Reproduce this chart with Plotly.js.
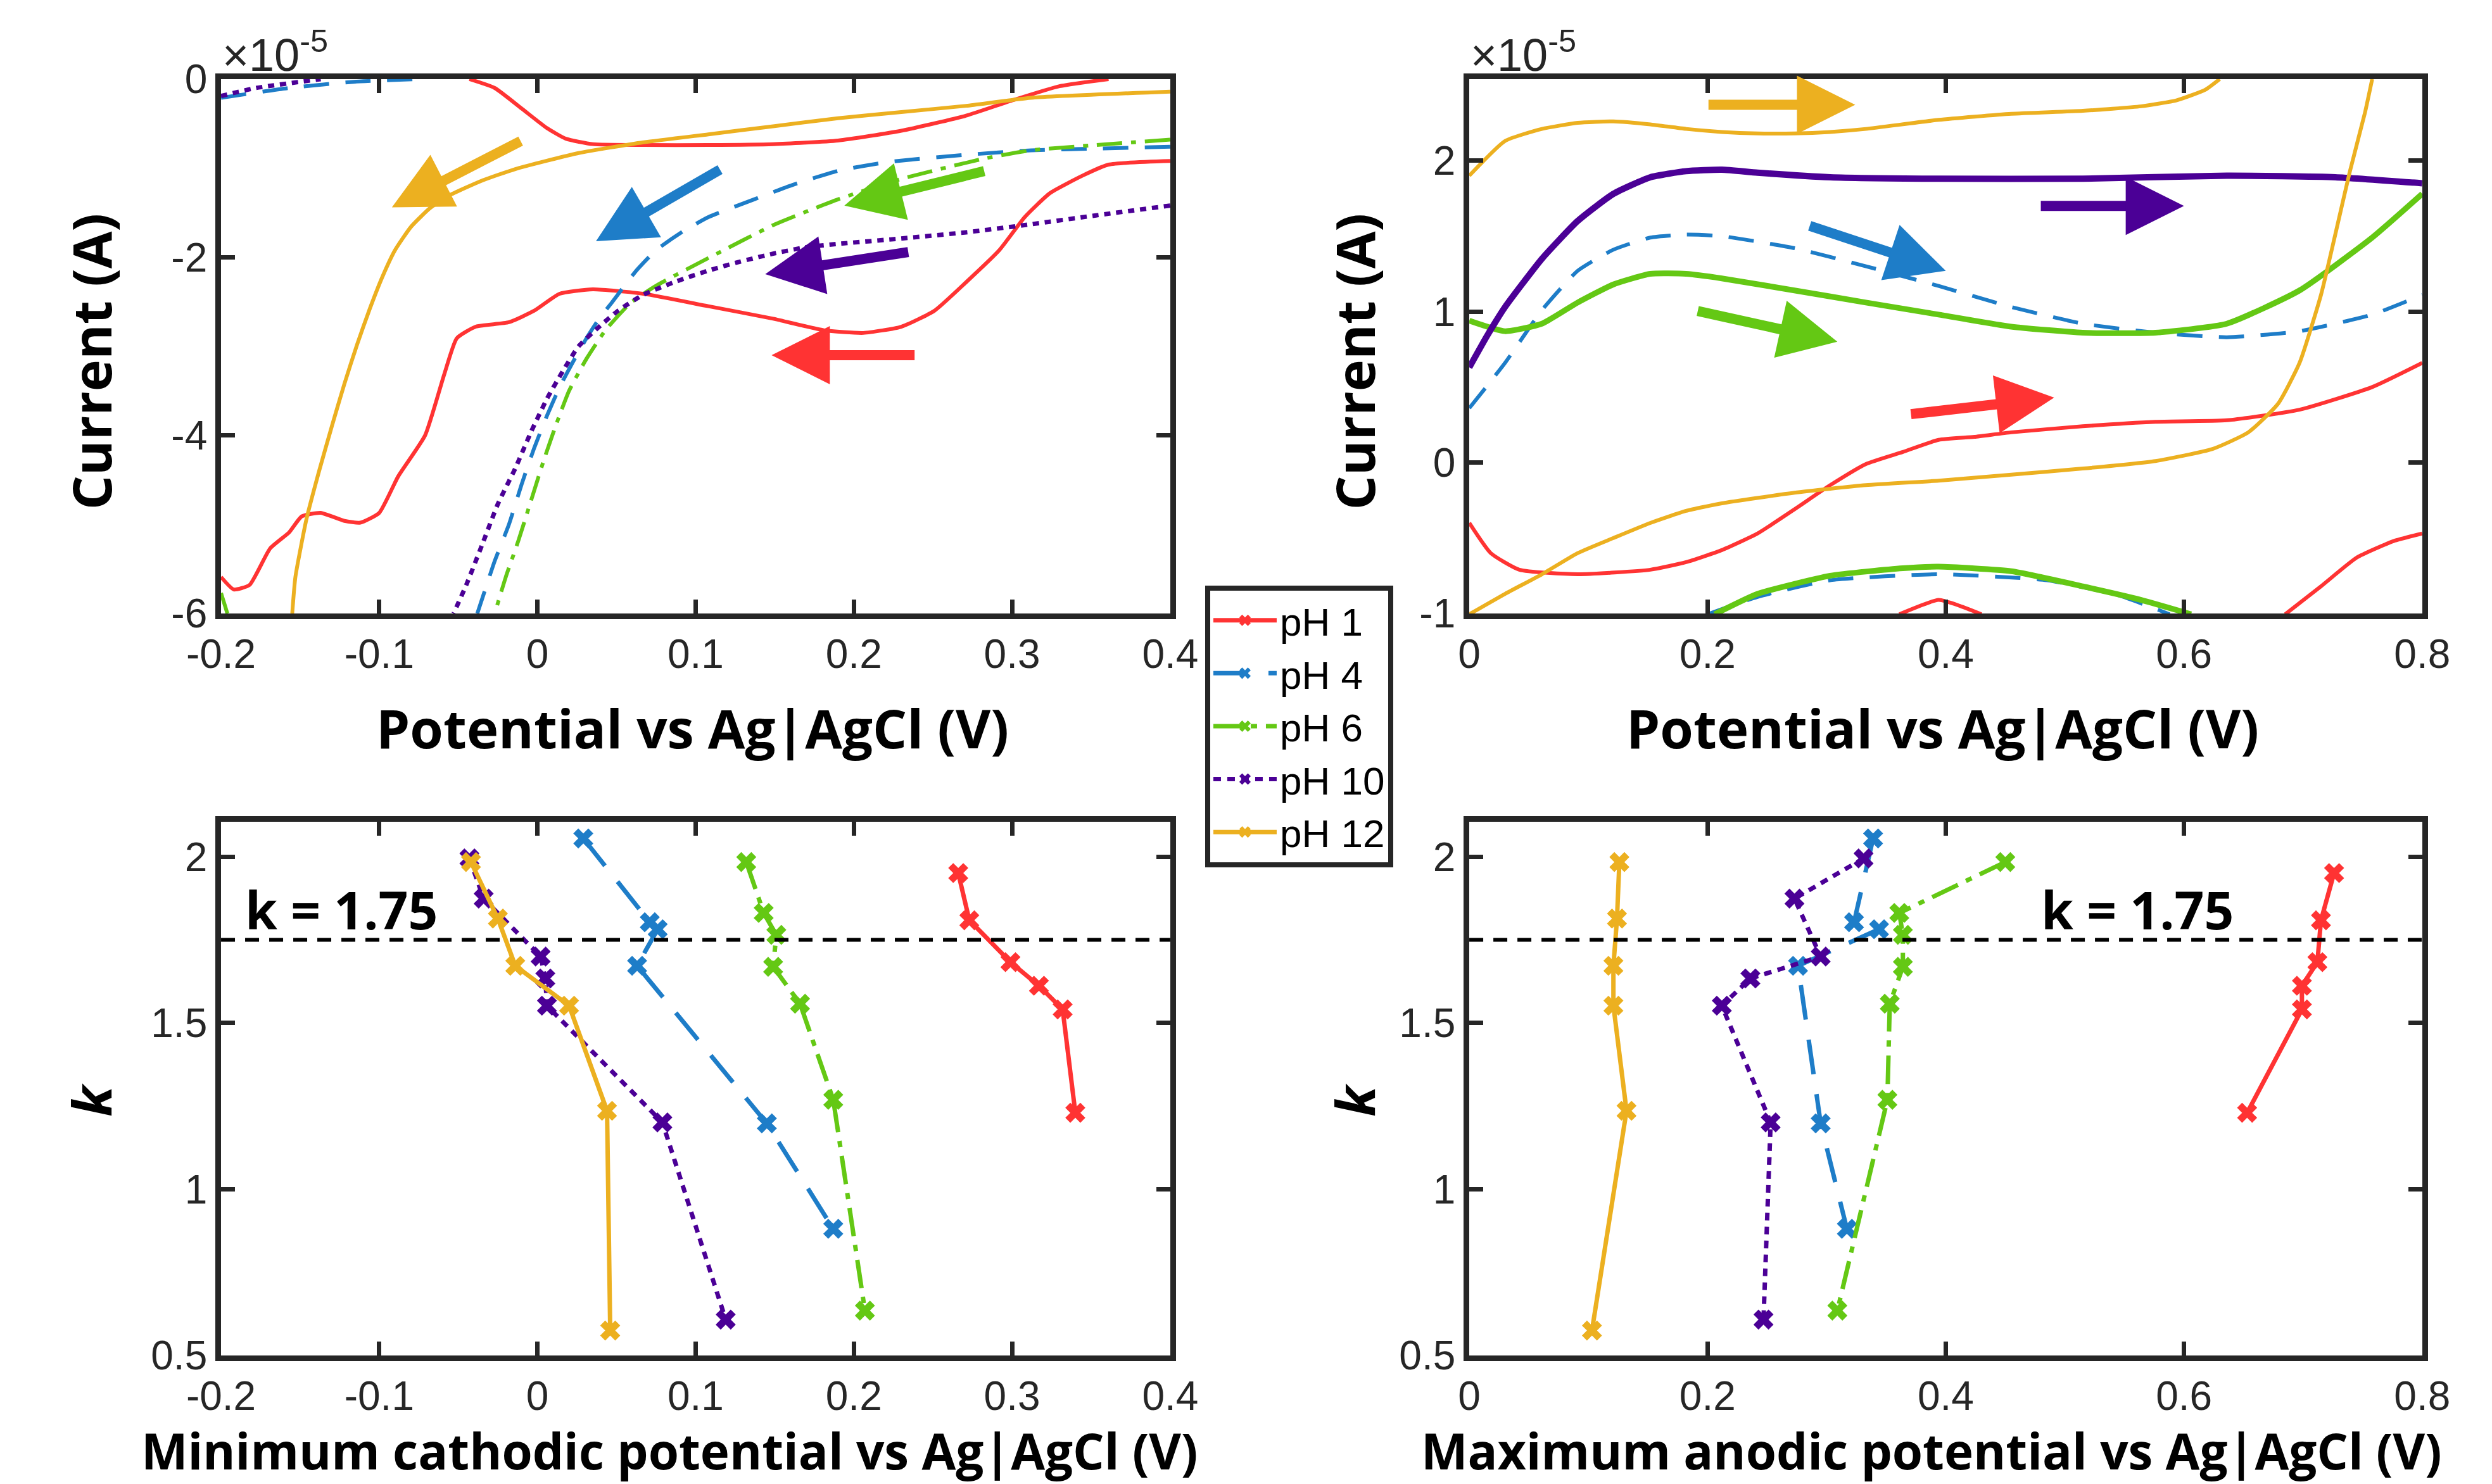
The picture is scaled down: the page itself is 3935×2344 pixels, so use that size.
<!DOCTYPE html>
<html>
<head>
<meta charset="utf-8">
<script src="https://cdn.plot.ly/plotly-3.0.1.min.js"></script>
<style>html,body{margin:0;padding:0;background:#fff;}#chart{width:3935px;height:2344px;}</style>
</head>
<body>
<div id="chart"></div>
<script>
// ---------------- DATA ----------------
const seriesNames = ["pH 1", "pH 4", "pH 6", "pH 10", "pH 12"];
const seriesColors = ["#FF3333", "#1E7DC8", "#64C814", "#4B0096", "#ECB020"];

// Cathodic scans (current in units of 1e-5 A); null separates visible branches
const cathX_pH1 = [0.4,0.361,0.345,0.324,0.308,0.292,0.271,0.251,0.230,0.206,0.181,0.149,0.108,0.067,0.035,0.014,-0.002,-0.018,-0.039,-0.051,-0.059,-0.071,-0.088,-0.100,-0.112,-0.122,-0.137,-0.149,-0.157,-0.169,-0.182,-0.192,-0.2,
  null,-0.043,-0.027,-0.010,0.006,0.018,0.035,0.067,0.108,0.149,0.190,0.230,0.271,0.300,0.330,0.361];
const cathY_pH1 = [-0.92,-0.96,-1.08,-1.28,-1.55,-1.92,-2.28,-2.60,-2.78,-2.85,-2.82,-2.69,-2.55,-2.41,-2.36,-2.41,-2.60,-2.73,-2.78,-2.91,-3.32,-4.00,-4.46,-4.87,-4.98,-4.96,-4.87,-4.91,-5.09,-5.27,-5.68,-5.73,-5.59,
  null,0,-0.10,-0.33,-0.55,-0.67,-0.73,-0.74,-0.74,-0.73,-0.69,-0.58,-0.41,-0.24,-0.08,0];
const cathX_pH4 = [-0.2,-0.157,-0.116,-0.076,null,
  0.4,0.353,0.312,0.271,0.222,0.190,0.161,0.137,0.108,0.092,0.075,0.063,0.055,0.047,0.039,0.031,0.022,0.014,0.006,-0.002,-0.010,-0.018,-0.027,-0.033,-0.038];
const cathY_pH4 = [-0.21,-0.10,-0.03,0,null,
  -0.76,-0.78,-0.80,-0.85,-0.93,-1.03,-1.19,-1.35,-1.55,-1.71,-1.92,-2.14,-2.32,-2.51,-2.69,-2.91,-3.19,-3.46,-3.78,-4.14,-4.55,-5.00,-5.41,-5.73,-6.0];
const cathX_pH6 = [-0.2,-0.196,null,
  0.4,0.353,0.312,0.283,0.230,0.190,0.149,0.108,0.075,0.059,0.043,0.031,0.020,0.012,0.004,-0.004,-0.012,-0.020,-0.027];
const cathY_pH6 = [-5.77,-6.0,null,
  -0.68,-0.74,-0.80,-0.89,-1.12,-1.35,-1.64,-2.01,-2.32,-2.51,-2.82,-3.14,-3.50,-3.87,-4.28,-4.73,-5.18,-5.59,-6.0];
const cathX_pH10 = [-0.2,-0.178,-0.137,null,
  0.4,0.353,0.312,0.271,0.230,0.190,0.169,0.149,0.128,0.108,0.088,0.067,0.051,0.039,0.026,0.016,0.006,-0.004,-0.014,-0.025,-0.035,-0.045,-0.053];
const cathY_pH10 = [-0.19,-0.10,0,null,
  -1.42,-1.53,-1.63,-1.72,-1.79,-1.85,-1.89,-1.96,-2.05,-2.15,-2.27,-2.42,-2.60,-2.78,-3.00,-3.28,-3.59,-3.96,-4.37,-4.77,-5.23,-5.68,-6.0];
const cathX_pH12 = [0.4,0.312,0.271,0.230,0.190,0.149,0.108,0.067,0.026,-0.014,-0.035,-0.055,-0.068,-0.080,-0.090,-0.098,-0.106,-0.114,-0.122,-0.130,-0.138,-0.146,-0.153,-0.155];
const cathY_pH12 = [-0.14,-0.21,-0.30,-0.37,-0.44,-0.53,-0.62,-0.71,-0.83,-1.01,-1.14,-1.30,-1.45,-1.66,-1.92,-2.22,-2.58,-2.98,-3.42,-3.90,-4.40,-4.94,-5.59,-6.0];

// Anodic scans (current in units of 1e-5 A)
const anodX_pH1 = [0,0.018,0.042,0.091,0.152,0.182,0.212,0.242,0.273,0.303,0.333,0.364,0.394,0.424,0.455,0.515,0.576,0.636,0.697,0.758,0.8,
  null,0.361,0.394,0.412,0.430,null,0.685,0.715,0.745,0.776,0.8];
const anodY_pH1 = [-0.40,-0.60,-0.71,-0.74,-0.71,-0.66,-0.58,-0.47,-0.31,-0.15,-0.01,0.07,0.15,0.17,0.20,0.24,0.27,0.28,0.35,0.50,0.66,
  null,-1.005,-0.91,-0.95,-1.005,null,-1.005,-0.82,-0.63,-0.52,-0.47];
const anodX_pH4 = [0,0.030,0.061,0.091,0.121,0.152,0.182,0.212,0.273,0.333,0.394,0.455,0.515,0.576,0.636,0.697,0.758,0.8,
  null,0.2,0.242,0.303,0.394,0.485,0.545,0.588];
const anodY_pH4 = [0.36,0.66,1.01,1.27,1.41,1.49,1.51,1.50,1.42,1.30,1.17,1.03,0.92,0.86,0.83,0.87,0.98,1.11,
  null,-1.005,-0.89,-0.78,-0.74,-0.78,-0.88,-1.005];
const anodX_pH6 = [0,0.030,0.061,0.091,0.121,0.152,0.182,0.212,0.273,0.333,0.394,0.455,0.515,0.576,0.636,0.697,0.758,0.8,
  null,0.206,0.242,0.303,0.364,0.394,0.455,0.515,0.564,0.606];
const anodY_pH6 = [0.94,0.87,0.92,1.06,1.18,1.25,1.25,1.22,1.14,1.06,0.98,0.90,0.86,0.86,0.92,1.14,1.49,1.78,
  null,-1.005,-0.87,-0.75,-0.70,-0.69,-0.72,-0.82,-0.91,-1.005];
const anodX_pH10 = [0,0.015,0.030,0.061,0.091,0.121,0.152,0.182,0.212,0.242,0.303,0.394,0.515,0.636,0.727,0.8];
const anodY_pH10 = [0.63,0.84,1.03,1.35,1.60,1.78,1.89,1.93,1.94,1.92,1.89,1.88,1.88,1.90,1.89,1.85];
const anodX_pH12 = [0,0.030,0.061,0.091,0.121,0.152,0.182,0.212,0.242,0.273,0.303,0.333,0.394,0.455,0.515,0.564,0.594,0.618,0.630,
  null,0,0.030,0.061,0.091,0.121,0.152,0.182,0.212,0.273,0.333,0.394,0.455,0.515,0.576,0.624,0.654,0.679,0.697,0.715,0.727,0.739,0.752,0.758];
const anodY_pH12 = [1.90,2.13,2.21,2.25,2.26,2.24,2.21,2.19,2.18,2.18,2.19,2.21,2.27,2.31,2.33,2.36,2.40,2.47,2.54,
  null,-1.005,-0.87,-0.74,-0.60,-0.50,-0.40,-0.32,-0.27,-0.20,-0.15,-0.12,-0.08,-0.04,0.01,0.09,0.20,0.39,0.66,1.11,1.51,1.92,2.32,2.54];

// k values and limiting potentials (V vs Ag|AgCl)
const k_pH1 = [1.951,1.809,1.683,1.612,1.541,1.230];
const minCath_pH1 = [0.266,0.273,0.299,0.317,0.332,0.340];
const maxAnod_pH1 = [0.726,0.715,0.712,0.699,0.699,0.653];
const k_pH4 = [2.055,1.803,1.782,1.672,1.198,0.881];
const minCath_pH4 = [0.029,0.071,0.076,0.063,0.145,0.187];
const maxAnod_pH4 = [0.339,0.323,0.344,0.276,0.295,0.317];
const k_pH6 = [1.984,1.831,1.765,1.669,1.558,1.269,0.635];
const minCath_pH6 = [0.132,0.143,0.151,0.149,0.166,0.187,0.207];
const maxAnod_pH6 = [0.450,0.361,0.364,0.364,0.353,0.351,0.309];
const k_pH10 = [1.995,1.874,1.700,1.634,1.552,1.201,0.608];
const minCath_pH10 = [-0.043,-0.034,0.002,0.005,0.006,0.079,0.119];
const maxAnod_pH10 = [0.331,0.273,0.295,0.236,0.212,0.253,0.247];
const k_pH12 = [1.984,1.814,1.672,1.552,1.236,0.575];
const minCath_pH12 = [-0.042,-0.025,-0.014,0.020,0.044,0.046];
const maxAnod_pH12 = [0.126,0.124,0.121,0.121,0.132,0.103];
const kThreshold = 1.75;

// Tick values and labels
const cathTickVals = [-0.2,-0.1,0,0.1,0.2,0.3,0.4];
const cathTickText = ["-0.2","-0.1","0","0.1","0.2","0.3","0.4"];
const anodTickVals = [0,0.2,0.4,0.6,0.8];
const anodTickText = ["0","0.2","0.4","0.6","0.8"];
const cathCurTickVals = [-6,-4,-2,0];
const cathCurTickText = ["-6","-4","-2","0"];
const anodCurTickVals = [-1,0,1,2];
const anodCurTickText = ["-1","0","1","2"];
const kTickVals = [0.5,1,1.5,2];
const kTickText = ["0.5","1","1.5","2"];

// Scan direction arrows: [tailX, tailY, headX, headY]
const cathArrows = [[0.239,-3.10,0.148,-3.10],[-0.010,-0.69,-0.092,-1.44],[0.116,-1.01,0.037,-1.82],[0.283,-1.03,0.194,-1.42],[0.235,-1.94,0.144,-2.19]];
const cathArrowSeries = [0,4,1,2,3];
const anodArrows = [[0.370,0.32,0.491,0.43],[0.2,2.37,0.324,2.37],[0.285,1.57,0.400,1.27],[0.191,1.005,0.309,0.80],[0.479,1.70,0.600,1.70]];
const anodArrowSeries = [0,4,1,2,3];

// ---------------- STYLE ----------------
const cathDash = ["solid","40px,26px","40px,14px,8px,14px","10px,9px","solid"];
const cathWidth = [6,6,6,7,6];
const anodDash = ["solid","40px,26px","solid","solid","solid"];
const anodWidth = [6,6,9,10,6];
const kDash = ["solid","55px,32px","45px,14px,10px,14px","12px,10px","solid"];
const cathXs = [cathX_pH1,cathX_pH4,cathX_pH6,cathX_pH10,cathX_pH12];
const cathYs = [cathY_pH1,cathY_pH4,cathY_pH6,cathY_pH10,cathY_pH12];
const anodXs = [anodX_pH1,anodX_pH4,anodX_pH6,anodX_pH10,anodX_pH12];
const anodYs = [anodY_pH1,anodY_pH4,anodY_pH6,anodY_pH10,anodY_pH12];
const ks = [k_pH1,k_pH4,k_pH6,k_pH10,k_pH12];
const minC = [minCath_pH1,minCath_pH4,minCath_pH6,minCath_pH10,minCath_pH12];
const maxA = [maxAnod_pH1,maxAnod_pH4,maxAnod_pH6,maxAnod_pH10,maxAnod_pH12];

const traces = [];
for (let i = 0; i < 5; i++) {
  traces.push({x: cathXs[i], y: cathYs[i], xaxis:'x', yaxis:'y', type:'scatter', mode:'lines',
    line:{color:seriesColors[i], width:cathWidth[i], dash:cathDash[i], shape:'spline', smoothing:0.5},
    connectgaps:false, showlegend:false, name:seriesNames[i]});
}
for (let i = 0; i < 5; i++) {
  traces.push({x: anodXs[i], y: anodYs[i], xaxis:'x2', yaxis:'y2', type:'scatter', mode:'lines',
    line:{color:seriesColors[i], width:anodWidth[i], dash:anodDash[i], shape:'spline', smoothing:0.5},
    connectgaps:false, showlegend:false, name:seriesNames[i]});
}
for (let i = 0; i < 5; i++) {
  traces.push({x: minC[i], y: ks[i], xaxis:'x3', yaxis:'y3', type:'scatter', mode:'lines+markers',
    line:{color:seriesColors[i], width:7, dash:kDash[i]},
    marker:{symbol:'x', size:28, color:seriesColors[i]},
    showlegend:true, name:seriesNames[i]});
}
for (let i = 0; i < 5; i++) {
  traces.push({x: maxA[i], y: ks[i], xaxis:'x4', yaxis:'y4', type:'scatter', mode:'lines+markers',
    line:{color:seriesColors[i], width:7, dash:kDash[i]},
    marker:{symbol:'x', size:28, color:seriesColors[i]},
    showlegend:false, name:seriesNames[i]});
}

const axisCol = '#262626';
const tickFont = {family:'Liberation Sans, Arial, sans-serif', size:64, color:axisCol};
function axis(domain, range, anchor, tv, tt) {
  return {domain:domain, range:range, anchor:anchor, tickvals:tv, ticktext:tt,
    showline:true, linecolor:axisCol, linewidth:9, mirror:'ticks',
    ticks:'inside', ticklen:22, tickwidth:7, tickcolor:axisCol,
    showgrid:false, zeroline:false, tickfont:tickFont, fixedrange:true};
}
const xL = [0.0887,0.4696], xR = [0.5896,0.9720];
const yT = [0.5866,0.9467], yB = [0.0866,0.4462];

const titleFont = {family:'Open Sans, sans-serif', size:85, color:'#000', weight:700};
const bottomTitleFont = {family:'Open Sans, sans-serif', size:78, color:'#000', weight:700};
const sciFont = {family:'Liberation Sans, Arial, sans-serif', size:72, color:axisCol};
const kLabFont = {family:'Open Sans, sans-serif', size:82, color:'#000', weight:700};
function ttl(text, x, y, angle, font) {
  return {text:text, x:x, y:y, xref:'paper', yref:'paper', xanchor:'center', yanchor:'middle',
    showarrow:false, textangle:angle || 0, font:font || titleFont};
}
const annotations = [
  ttl('Potential vs Ag|AgCl (V)', 0.278, 0.5098),
  ttl('Potential vs Ag|AgCl (V)', 0.7795, 0.5098),
  ttl('Minimum cathodic potential vs Ag|AgCl (V)', 0.2686, 0.0225, 0, bottomTitleFont),
  ttl('Maximum anodic potential vs Ag|AgCl (V)', 0.7751, 0.0225, 0, bottomTitleFont),
  ttl('Current (A)', 0.0363, 0.7566, -90),
  ttl('Current (A)', 0.5433, 0.7566, -90),
  ttl('<i>k</i>', 0.0363, 0.259, -90),
  ttl('<i>k</i>', 0.5433, 0.259, -90),
  {text:'×10<sup>-5</sup>', x:0.0887, y:0.9467, xref:'paper', yref:'paper', xanchor:'left', yanchor:'bottom', showarrow:false, yshift:-4, font:sciFont},
  {text:'×10<sup>-5</sup>', x:0.5896, y:0.9467, xref:'paper', yref:'paper', xanchor:'left', yanchor:'bottom', showarrow:false, yshift:-4, font:sciFont},
  {text:'k = ' + kThreshold, x:-0.124, y:1.842, xref:'x3', yref:'y3', xanchor:'center', yanchor:'middle', showarrow:false, font:kLabFont},
  {text:'k = ' + kThreshold, x:0.561, y:1.842, xref:'x4', yref:'y4', xanchor:'center', yanchor:'middle', showarrow:false, font:kLabFont}
];
function addArrows(list, ser, xr, yr) {
  list.forEach((a, j) => {
    annotations.push({x:a[2], y:a[3], ax:a[0], ay:a[1], xref:xr, yref:yr, axref:xr, ayref:yr,
      text:'', showarrow:true, arrowhead:2, arrowsize:1.15, arrowwidth:16, arrowcolor:seriesColors[ser[j]], standoff:0});
  });
}
addArrows(cathArrows, cathArrowSeries, 'x', 'y');
addArrows(anodArrows, anodArrowSeries, 'x2', 'y2');

const shapes = [
  {type:'line', xref:'x3 domain', yref:'y3', x0:0, x1:1, y0:kThreshold, y1:kThreshold, line:{color:'#000', width:6, dash:'22px,16px'}},
  {type:'line', xref:'x4 domain', yref:'y4', x0:0, x1:1, y0:kThreshold, y1:kThreshold, line:{color:'#000', width:6, dash:'22px,16px'}}
];

const layout = {
  width:3935, height:2344, margin:{l:0, r:0, t:0, b:0},
  paper_bgcolor:'#fff', plot_bgcolor:'#fff',
  xaxis: axis(xL, [-0.2,0.4], 'y', cathTickVals, cathTickText),
  yaxis: axis(yT, [-6,0], 'x', cathCurTickVals, cathCurTickText),
  xaxis2: axis(xR, [0,0.8], 'y2', anodTickVals, anodTickText),
  yaxis2: axis(yT, [-1,2.54], 'x2', anodCurTickVals, anodCurTickText),
  xaxis3: axis(xL, [-0.2,0.4], 'y3', cathTickVals, cathTickText),
  yaxis3: axis(yB, [0.5,2.105], 'x3', kTickVals, kTickText),
  xaxis4: axis(xR, [0,0.8], 'y4', anodTickVals, anodTickText),
  yaxis4: axis(yB, [0.5,2.105], 'x4', kTickVals, kTickText),
  showlegend:true,
  legend:{x:0.4836, y:0.6054, xanchor:'left', yanchor:'top', bgcolor:'#fff', bordercolor:axisCol, borderwidth:8,
    font:{family:'Liberation Sans, Arial, sans-serif', size:62, color:'#000'}, itemwidth:100, tracegroupgap:0},
  annotations:annotations, shapes:shapes
};
Plotly.newPlot('chart', traces, layout, {staticPlot:true, displayModeBar:false});
</script>
</body>
</html>
